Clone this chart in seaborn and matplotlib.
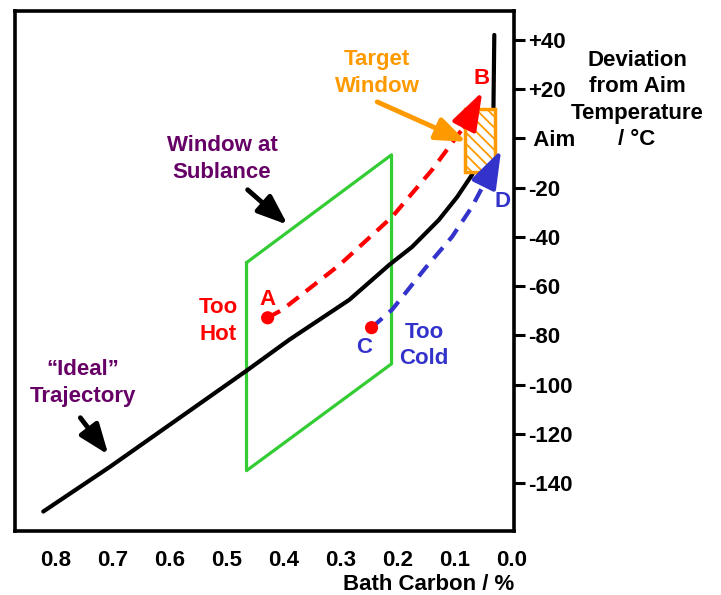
import matplotlib
matplotlib.use("Agg")
import matplotlib.pyplot as plt
from matplotlib.patches import Rectangle
import seaborn as sns

# "ideal" trajectory
ideal_c = [0.821, 0.704, 0.465, 0.390, 0.285, 0.215, 0.175, 0.128, 0.096, 0.070, 0.052, 0.033, 0.031]
ideal_t = [-151.6, -133.4, -94.4, -81.8, -65.6, -51.4, -44.1, -33.1, -23.8, -14.8, -6.0, 2.0, 42.0]

# window at sublance (parallelogram)
win_c = [0.465, 0.211, 0.211, 0.465, 0.465]
win_t = [-50.5, -6.7, -91.6, -135.0, -50.5]

# too hot path A -> B
hot_c = [0.428, 0.402, 0.302, 0.210, 0.140, 0.084]
hot_t = [-72.9, -69.6, -51.4, -31.9, -12.8, 4.7]
hot_tip = (0.052, 18.9)

# too cold path C -> D
cold_c = [0.246, 0.210, 0.150, 0.105, 0.070, 0.045]
cold_t = [-76.9, -69.6, -52.2, -40.0, -27.8, -16.8]
cold_tip = (0.019, -4.7)

# target window
target_c = (0.030, 0.082)
target_t = (-13.6, 12.0)

xticks = [0.8, 0.7, 0.6, 0.5, 0.4, 0.3, 0.2, 0.1, 0.0]
yticks = [40, 20, 0, -20, -40, -60, -80, -100, -120, -140]
ylabels = ["+40", "+20", " Aim", "-20", "-40", "-60", "-80", "-100", "-120", "-140"]

sns.set_style("white")
plt.rcParams["font.family"] = ["Liberation Sans", "DejaVu Sans"]
plt.rcParams["font.weight"] = "bold"
plt.rcParams["text.color"] = "black"
plt.rcParams["axes.labelcolor"] = "black"
plt.rcParams["hatch.linewidth"] = 1.3

RED = "#ff0000"
BLUE = "#3333cc"
GREEN = "#33cc33"
PURPLE = "#660066"
ORANGE = "#ff9900"
FS = 16
LS = 1.35

fig = plt.figure(figsize=(7.21, 5.95), dpi=100)
ax = fig.add_axes([0.0204, 0.1076, 0.6929, 0.8734])

sns.lineplot(x=win_c, y=win_t, sort=False, estimator=None, color=GREEN, lw=2.3, ax=ax, zorder=2)
sns.lineplot(x=ideal_c, y=ideal_t, sort=False, estimator=None, color="black", lw=3, ax=ax, zorder=3)
sns.lineplot(x=cold_c, y=cold_t, sort=False, estimator=None, color=BLUE, lw=3,
             linestyle=(0, (3.4, 2.2)), ax=ax, zorder=4)

ax.add_patch(Rectangle((target_c[0], target_t[0]), target_c[1] - target_c[0],
                       target_t[1] - target_t[0], facecolor="white", edgecolor=ORANGE,
                       hatch="\\\\\\", lw=2.5, zorder=5))

sns.lineplot(x=hot_c, y=hot_t, sort=False, estimator=None, color=RED, lw=3,
             linestyle=(0, (3.4, 2.2)), ax=ax, zorder=6)
sns.scatterplot(x=[hot_c[0], cold_c[0]], y=[hot_t[0], cold_t[0]], color=RED, s=90,
                edgecolor="none", ax=ax, zorder=7)

head = "-|>,head_length=1.3,head_width=0.45"
ax.annotate("", xy=hot_tip, xytext=(hot_c[-1], hot_t[-1]),
            arrowprops=dict(arrowstyle=head, color=RED, lw=3, mutation_scale=18,
                            shrinkA=0, shrinkB=0), zorder=7)
ax.annotate("", xy=cold_tip, xytext=(cold_c[-1], cold_t[-1]),
            arrowprops=dict(arrowstyle=head, color=BLUE, lw=3, mutation_scale=18,
                            shrinkA=0, shrinkB=0), zorder=7)

# pointer arrows
ptr = "-|>,head_length=1.3,head_width=0.5"
for tip, tail, col in [((0.080, -1.4), (0.236, 14.8), ORANGE),
                       ((0.393, -35.1), (0.463, -20.9), "black"),
                       ((0.707, -128.5), (0.756, -113.5), "black")]:
    ax.annotate("", xy=tip, xytext=tail,
                arrowprops=dict(arrowstyle=ptr, color=col, lw=3.5, mutation_scale=14,
                                shrinkA=0, shrinkB=0), zorder=8)

txt = dict(ha="center", va="center", fontsize=FS, fontweight="bold", linespacing=LS, zorder=9)
ax.text(0.236, 26.6, "Target\nWindow", color=ORANGE, **txt)
ax.text(0.508, -8.3, "Window at\nSublance", color=PURPLE, **txt)
ax.text(0.515, -74.1, "Too\nHot", color=RED, **txt)
ax.text(0.428, -65.6, "A", color=RED, **txt)
ax.text(0.054, 24.2, "B", color=RED, **txt)
ax.text(0.259, -85.1, "C", color=BLUE, **txt)
ax.text(0.017, -25.8, "D", color=BLUE, **txt)
ax.text(0.154, -84.2, "Too\nCold", color=BLUE, **txt)
ax.text(0.751, -99.3, "\u201cIdeal\u201d\nTrajectory", color=PURPLE, **txt)

ax.set_xlim(0.871, -0.004)
ax.set_ylim(-159.5, 51.6)
ax.set_xticks(xticks)
ax.set_xticklabels([f"{v:.1f}" for v in xticks])
ax.set_yticks(yticks)
ax.set_yticklabels(ylabels)
ax.yaxis.tick_right()
ax.tick_params(axis="both", direction="out", length=8, width=2.2, labelsize=FS, pad=2,
               color="black", labelcolor="black")
ax.tick_params(axis="x", pad=6)
ax.tick_params(axis="y", left=False, right=True)
for lab in ax.get_xticklabels() + ax.get_yticklabels():
    lab.set_fontweight("bold")
for sp in ax.spines.values():
    sp.set_visible(True)
    sp.set_color("black")
    sp.set_linewidth(2.6)

ax.set_xlabel("Bath Carbon / %", fontsize=FS, fontweight="bold", loc="right", labelpad=2)
ax.set_ylabel("")
fig.text(0.8835, 0.832, "Deviation\nfrom Aim\nTemperature\n/ \u00b0C", ha="center", va="center",
         fontsize=FS, fontweight="bold", multialignment="center", linespacing=LS)

fig.savefig("out.png", dpi=100)
